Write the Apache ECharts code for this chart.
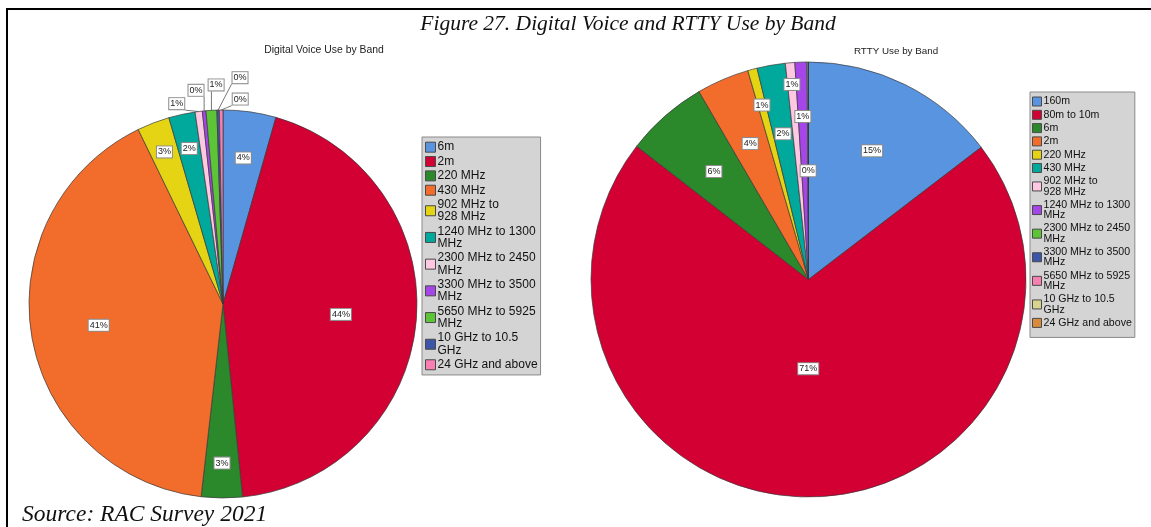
<!DOCTYPE html>
<html>
<head>
<meta charset="utf-8">
<title>Digital Voice and RTTY Use by Band</title>
<script src="https://cdn.jsdelivr.net/npm/echarts@6/dist/echarts.min.js"></script>
<style>
  html, body { margin: 0; padding: 0; background: #fff; }
  #stage { position: relative; width: 1151px; height: 527px; overflow: hidden; }
  .layer { position: absolute; left: 0; top: 0; width: 1151px; height: 527px; }
</style>
</head>
<body>
<div id="stage">
  <div id="voice" class="layer"></div>
  <div id="rtty" class="layer"></div>
</div>
<script>
// ---- Data (share of respondents, %) ----
const voiceBands = [
  '6m', '2m', '220 MHz', '430 MHz', '902 MHz to\n928 MHz', '1240 MHz to 1300\nMHz',
  '2300 MHz to 2450\nMHz', '3300 MHz to 3500\nMHz', '5650 MHz to 5925\nMHz',
  '10 GHz to 10.5\nGHz', '24 GHz and above'
];
const voiceShare = [4.4, 44.0, 3.4, 41.0, 2.7, 2.2, 0.6, 0.3, 0.9, 0.2, 0.3];

const rttyBands = [
  '160m', '80m to 10m', '6m', '2m', '220 MHz', '430 MHz', '902 MHz to\n928 MHz',
  '1240 MHz to 1300\nMHz', '2300 MHz to 2450\nMHz', '3300 MHz to 3500\nMHz',
  '5650 MHz to 5925\nMHz', '10 GHz to 10.5\nGHz', '24 GHz and above'
];
const rttyShare = [14.6, 70.9, 6.1, 3.9, 0.7, 2.1, 0.7, 0.9, 0.1, 0, 0, 0, 0];

const figureTitle = 'Figure 27. Digital Voice and RTTY Use by Band';
const voiceTitle = 'Digital Voice Use by Band';
const rttyTitle = 'RTTY Use by Band';
const sourceNote = 'Source: RAC Survey 2021';

// ---- Styling ----
const palette = [
  '#5894E0', '#D30033', '#2B892B', '#F26C2B', '#E5D414', '#00A99B', '#FEC7E2',
  '#A645E8', '#5CC436', '#3B56A8', '#F77FB2', '#D9D38F', '#D98B3D'
];
const SANS = '"Liberation Sans", Arial, sans-serif';
const SERIF = '"Liberation Serif", Georgia, serif';

// Pie geometry (pixels)
const voicePie = { center: [223, 304], radius: 194 };
const rttyPie = { center: [808.5, 279.5], radius: 217.5 };

// Label placement per slice: a number is the radial fraction of an inside label
// on the slice bisector; [angle, fraction] is a callout placed outside the rim.
const voiceLabelPlacement = [0.76, 0.61, 0.82, 0.65, 0.84, 0.82,
  [347, 1.06], [352.8, 1.11], [358.2, 1.13], [4.3, 1.17], [4.8, 1.06]];
const rttyLabelPlacement = [0.66, 0.41, 0.66, 0.68, 0.83, 0.68, 0.9, 0.75, 0.5,
  null, null, null, null];

function polar(pie, deg, f) {
  const a = deg * Math.PI / 180;
  return [pie.center[0] + Math.sin(a) * pie.radius * f,
          pie.center[1] - Math.cos(a) * pie.radius * f];
}
const clamp = (v, lo, hi) => Math.max(lo, Math.min(hi, v));

function sliceLabelLayout(values, pie, placement) {
  const total = values.reduce((s, v) => s + v, 0);
  const mids = [];
  let acc = 0;
  values.forEach(v => { mids.push((acc + v / 2) / total * 360); acc += v; });
  return function (params) {
    const i = params.dataIndex;
    const p = placement[i];
    if (Array.isArray(p)) {
      const [x, y] = polar(pie, p[0], p[1]);
      const w = params.labelRect.width, h = params.labelRect.height;
      const start = polar(pie, mids[i], 1);
      const end = [clamp(start[0], x - w / 2, x + w / 2), clamp(start[1], y - h / 2, y + h / 2)];
      const mid = [(start[0] + end[0]) / 2, (start[1] + end[1]) / 2];
      return { x, y, align: 'center', verticalAlign: 'middle', labelLinePoints: [start, mid, end] };
    }
    const [x, y] = polar(pie, mids[i], p);
    return { x, y, align: 'center', verticalAlign: 'middle' };
  };
}

const sliceLabel = {
  color: '#222', fontSize: 9, fontFamily: SANS, lineHeight: 10,
  backgroundColor: '#fff', borderColor: '#8c8c8c', borderWidth: 1,
  padding: [1, 1, 0, 1], textBorderWidth: 0,
  formatter: p => Math.round(p.percent) + '%'
};

function pieSeries(name, bands, values, pie, placement) {
  return {
    type: 'pie', name,
    center: pie.center, radius: pie.radius,
    startAngle: 90, clockwise: true,
    avoidLabelOverlap: false, animation: false,
    itemStyle: { borderColor: '#3a3a3a', borderWidth: 0.7 },
    emphasis: { scale: false },
    label: sliceLabel,
    labelLine: { show: false, lineStyle: { color: '#777', width: 1 } },
    labelLayout: sliceLabelLayout(values, pie, placement),
    data: bands.map((b, i) => {
      const p = placement[i];
      const callout = Array.isArray(p);
      return {
        name: b, value: values[i],
        label: { show: p != null, position: callout ? 'outside' : 'inside' },
        labelLine: { show: callout }
      };
    })
  };
}

function legendBox(left, top, fontSize, lineHeight, gap, icon, padding) {
  return {
    orient: 'vertical', left, top, padding,
    icon: 'rect', itemWidth: icon, itemHeight: icon, itemGap: gap,
    backgroundColor: '#d4d4d4', borderColor: '#8a8a8a', borderWidth: 1,
    itemStyle: { borderColor: '#4a4a4a', borderWidth: 1 },
    textStyle: { fontFamily: SANS, fontSize, lineHeight, color: '#111', padding: [0, 0, 0, -3] },
    selectedMode: false
  };
}

// ---- Left layer: frame, figure captions, digital voice pie ----
const voiceChart = echarts.init(document.getElementById('voice'), null, { renderer: 'canvas' });
voiceChart.setOption({
  color: palette,
  animation: false,
  graphic: [
    { type: 'polyline', silent: true,
      shape: { points: [[7, 527], [7, 9], [1151, 9]] },
      style: { stroke: '#000', lineWidth: 2, fill: null } },
    { type: 'text', x: 628, y: 24,
      style: { text: figureTitle, align: 'center', verticalAlign: 'middle',
               fontFamily: SERIF, fontStyle: 'italic', fontSize: 21.5, fill: '#111' } },
    { type: 'text', x: 324, y: 50,
      style: { text: voiceTitle, align: 'center', verticalAlign: 'middle',
               fontFamily: SANS, fontSize: 10.4, fill: '#222' } },
    { type: 'text', x: 22, y: 515,
      style: { text: sourceNote, align: 'left', verticalAlign: 'middle',
               fontFamily: SERIF, fontStyle: 'italic', fontSize: 23.5, fill: '#111' } }
  ],
  legend: legendBox(422, 137, 12, 12.35, 2, 10, [4, 3, 4, 3]),
  series: [pieSeries('Digital Voice', voiceBands, voiceShare, voicePie, voiceLabelPlacement)]
});

// ---- Right layer: RTTY pie ----
const rttyChart = echarts.init(document.getElementById('rtty'), null, { renderer: 'canvas' });
rttyChart.setOption({
  color: palette,
  animation: false,
  graphic: [
    { type: 'text', x: 896, y: 51,
      style: { text: rttyTitle, align: 'center', verticalAlign: 'middle',
               fontFamily: SANS, fontSize: 9.8, fill: '#222' } }
  ],
  legend: legendBox(1030, 92, 10.6, 10.3, 2.3, 9, [4, 3, 9, 2]),
  series: [pieSeries('RTTY', rttyBands, rttyShare, rttyPie, rttyLabelPlacement)]
});
</script>
</body>
</html>
